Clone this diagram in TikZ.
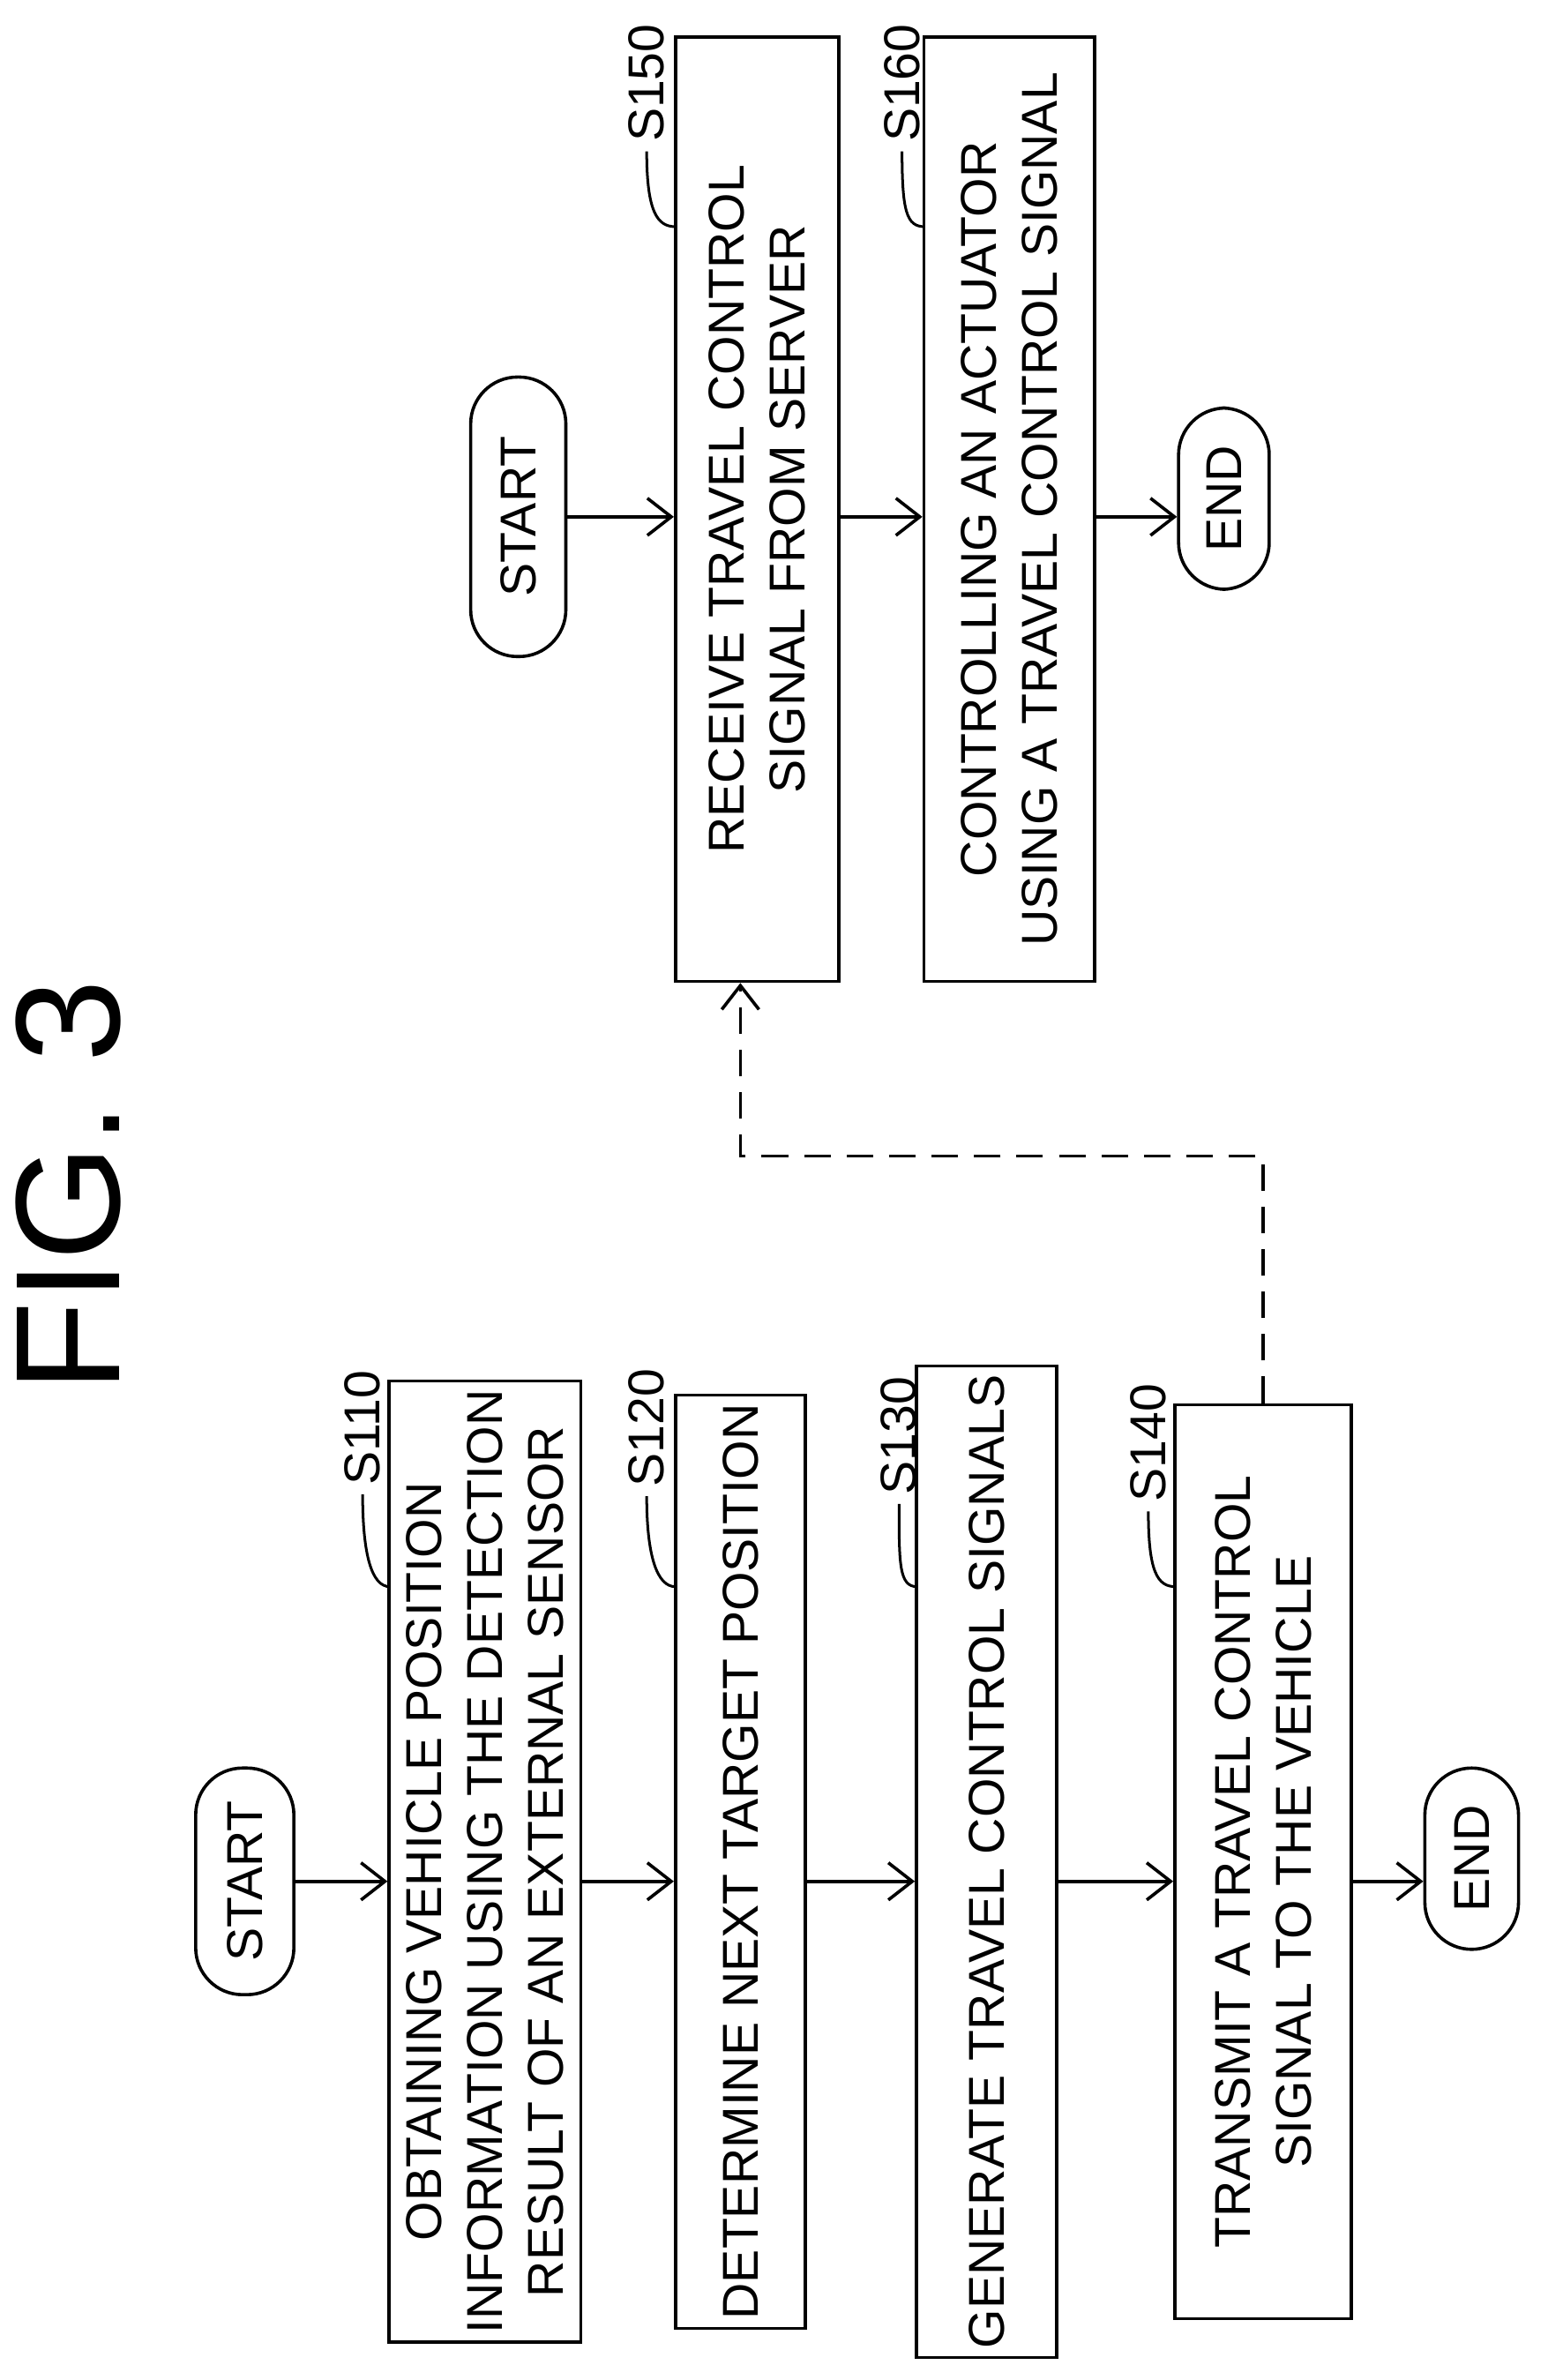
\documentclass[tikz,border=0pt]{standalone}
\usepackage{fontspec}
\setmainfont{Liberation Sans}
\usetikzlibrary{arrows.meta}
\tikzset{
	step/.style={draw, line width=1.2pt, rotate=90, align=center, font=\fontsize{19}{23}\selectfont, minimum width=#1},
	term/.style={draw, line width=1.2pt, rotate=90, rounded corners=0.62cm, font=\fontsize{19}{23}\selectfont},
	flow/.style={-{Straight Barb[length=9pt,width=14pt]}, line width=1.2pt},
	steplab/.style={rotate=90, font=\fontsize{19}{23}\selectfont}
}
\begin{document}
\begin{tikzpicture}[x=0.02cm, y=-0.02cm]
\useasboundingbox (0,0) rectangle (1024,1575);
\node[rotate=90, font=\fontsize{56}{60}\selectfont] (fig) at (45,785) {FIG. 3};
% left flow
\node[term, minimum width=3cm, minimum height=1.3cm] (start1) at (162,1245) {START};
\node[step=12.1cm, minimum height=2.54cm] (b1) at (321,1232) {OBTAINING VEHICLE POSITION\\INFORMATION USING THE DETECTION\\RESULT OF AN EXTERNAL SENSOR};
\node[step=12.1cm, minimum height=1.72cm] (b2) at (490,1232) {DETERMINE NEXT TARGET POSITION};
\node[step=12.1cm, minimum height=1.86cm] (b3) at (653,1232) {GENERATE TRAVEL CONTROL SIGNALS};
\node[step=12.1cm, minimum height=2.34cm] (b4) at (836,1232) {TRANSMIT A TRAVEL CONTROL\\SIGNAL TO THE VEHICLE};
\node[term, minimum width=2.4cm, minimum height=1.24cm] (end1) at (974,1230) {END};
\draw[flow] (start1.south) -- (start1.south -| b1.north);
\draw[flow] (start1.south -| b1.south) -- (start1.south -| b2.north);
\draw[flow] (start1.south -| b2.south) -- (start1.south -| b3.north);
\draw[flow] (start1.south -| b3.south) -- (start1.south -| b4.north);
\draw[flow] (start1.south -| b4.south) -- (start1.south -| end1.north);
% right flow
\node[term, minimum width=3.7cm, minimum height=1.26cm] (start2) at (343,342) {START};
\node[step=12.5cm, minimum height=2.16cm] (b5) at (501,337) {RECEIVE TRAVEL CONTROL\\SIGNAL FROM SERVER};
\node[step=12.5cm, minimum height=2.26cm] (b6) at (668,337) {CONTROLLING AN ACTUATOR\\USING A TRAVEL CONTROL SIGNAL};
\node[term, minimum width=2.4cm, minimum height=1.2cm] (end2) at (810,330) {END};
\draw[flow] (start2.south) -- (start2.south -| b5.north);
\draw[flow] (start2.south -| b5.south) -- (start2.south -| b6.north);
\draw[flow] (start2.south -| b6.south) -- (start2.south -| end2.north);
% server to vehicle
\coordinate (c1) at (836,765);
\coordinate (c2) at (490,765);
\draw[flow, dashed, dash pattern=on 10pt off 6pt] (b4.east -| c1) -- (c1) -- (c2) -- (c2 |- b5.west);
% step labels
\foreach \nm/\lx/\ly/\bx/\by in {S110/240/945/258/1050, S120/428/945/447/1050, S130/595/950/607/1050, S140/760/955/778/1050, S150/428/55/447/150, S160/597/55/612/150}{
	\node[steplab] (l\nm) at (\lx,\ly) {\nm};
	\draw[line width=1pt] (l\nm.west) .. controls +(0,40) and +(-12,0) .. (\bx,\by);
}
\end{tikzpicture}
\end{document}
